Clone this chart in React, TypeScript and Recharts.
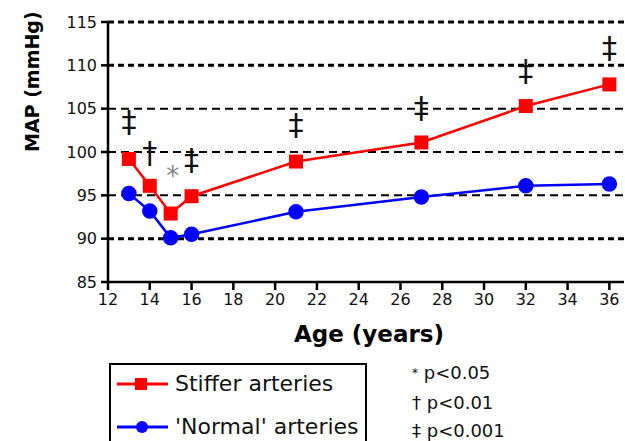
import { ComposedChart, Line, XAxis, YAxis, ReferenceLine, ReferenceDot, Label } from 'recharts'

const ages = [13, 14, 15, 16, 21, 27, 32, 36]
const stiffer = [99.2, 96.1, 92.9, 94.9, 98.9, 101.1, 105.3, 107.8]
const normal = [95.2, 93.2, 90.1, 90.5, 93.1, 94.8, 96.1, 96.3]

const xTicks = [12, 14, 16, 18, 20, 22, 24, 26, 28, 30, 32, 34, 36]
const yTicks = [85, 90, 95, 100, 105, 110, 115]

// significance marks above each age
const marks = [
  { age: 13, y: 103.4, sym: '‡' },
  { age: 14, y: 99.8, sym: '†' },
  { age: 15.1, y: 97.6, sym: '*' },
  { age: 16, y: 99.0, sym: '‡' },
  { age: 21, y: 103.0, sym: '‡' },
  { age: 27, y: 105.0, sym: '‡' },
  { age: 32, y: 109.2, sym: '‡' },
  { age: 36, y: 111.9, sym: '‡' },
]

const heavyGrid = [90, 110, 115]
const lightGrid = [95, 100, 105]

const rows = ages.map((age, i) => ({ age, stiffer: stiffer[i], normal: normal[i] }))

const font = '"DejaVu Sans", Verdana, sans-serif'

function Square(props: any) {
  const { cx, cy, index } = props
  return <rect key={`sq-${index}`} x={cx - 7} y={cy - 7} width={14} height={14} fill="#ff0000" />
}

function Mark(sym: string) {
  return (p: any) => {
    const star = sym === '*'
    return (
      <text
        x={p.cx}
        y={star ? p.cy + 12 : p.cy + 9}
        textAnchor="middle"
        fontFamily={font}
        fontSize={star ? 26 : 30}
        fill={star ? '#888' : '#111'}
      >
        {sym}
      </text>
    )
  }
}

export default function App() {
  return (
    <div style={{ position: 'absolute', left: 0, top: 0, width: 625, height: 441, background: '#fff', fontFamily: font }}>
      <ComposedChart width={625} height={441} data={rows} margin={{ top: 22, right: 1, left: 48, bottom: 129 }}>
        {heavyGrid.map((v) => (
          <ReferenceLine key={`h${v}`} y={v} stroke="#000" strokeWidth={3} strokeDasharray="6 4" />
        ))}
        {lightGrid.map((v) => (
          <ReferenceLine key={`l${v}`} y={v} stroke="#000" strokeWidth={2} strokeDasharray="8 5" />
        ))}
        <XAxis
          dataKey="age"
          type="number"
          domain={[12, 36.7]}
          ticks={xTicks}
          height={30}
          tickSize={8}
          stroke="#000"
          strokeWidth={2.5}
          tick={{ fill: '#111', fontSize: 16, fontFamily: font }}
          tickMargin={4}
        >
          <Label value="Age (years)" position="bottom" offset={14} fill="#000" fontSize={23} fontWeight="bold" fontFamily={font} dx={3} />
        </XAxis>
        <YAxis
          type="number"
          domain={[85, 115]}
          ticks={yTicks}
          width={60}
          tickSize={7}
          stroke="#000"
          strokeWidth={2.5}
          tick={{ fill: '#111', fontSize: 16, fontFamily: font }}
          tickMargin={4}
        >
          <Label value="MAP (mmHg)" angle={-90} position="insideLeft" offset={-16} fill="#000" fontSize={19} fontWeight="bold" fontFamily={font} />
        </YAxis>
        <Line dataKey="stiffer" stroke="#ff0000" strokeWidth={2.5} dot={<Square />} isAnimationActive={false} />
        <Line dataKey="normal" stroke="#0000ff" strokeWidth={2.5} dot={{ r: 6.5, fill: '#0000ff', stroke: '#0000ff' }} isAnimationActive={false} />
        {marks.map((m) => (
          <ReferenceDot key={`m${m.age}`} x={m.age} y={m.y} r={10} shape={Mark(m.sym)} />
        ))}
      </ComposedChart>

      <div style={{ position: 'absolute', left: 109, top: 363, width: 258, height: 90, border: '2px solid #000', boxSizing: 'border-box' }} />
      <svg style={{ position: 'absolute', left: 0, top: 0 }} width={625} height={441}>
        <line x1={117} x2={168} y1={384} y2={384} stroke="#ff0000" strokeWidth={3} />
        <rect x={135} y={378} width={12} height={12} fill="#ff0000" />
        <line x1={117} x2={168} y1={427} y2={427} stroke="#0000ff" strokeWidth={3} />
        <circle cx={142} cy={427} r={6} fill="#0000ff" />
      </svg>
      <div style={{ position: 'absolute', left: 175, top: 370, fontSize: 22, lineHeight: '28px', color: '#111' }}>Stiffer arteries</div>
      <div style={{ position: 'absolute', left: 175, top: 413, fontSize: 22, lineHeight: '28px', color: '#111' }}>'Normal' arteries</div>
      <div style={{ position: 'absolute', left: 412, top: 361, fontSize: 18, lineHeight: '24px', color: '#111' }}>
        <span style={{ fontSize: 12, verticalAlign: 'top' }}>*</span> p&lt;0.05
      </div>
      <div style={{ position: 'absolute', left: 412, top: 391, fontSize: 18, lineHeight: '24px', color: '#111' }}>† p&lt;0.01</div>
      <div style={{ position: 'absolute', left: 412, top: 419, fontSize: 18, lineHeight: '24px', color: '#111' }}>‡ p&lt;0.001</div>
    </div>
  )
}
